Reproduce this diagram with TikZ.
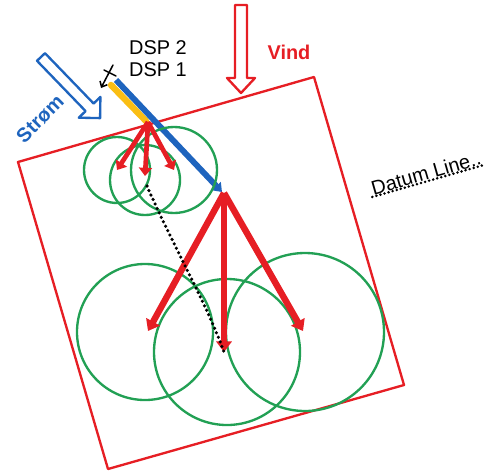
\documentclass[tikz,border=0pt]{standalone}
\usepackage{fontspec}
\setmainfont{Liberation Sans}
\usetikzlibrary{arrows.meta}
\definecolor{vindred}{RGB}{230,30,36}
\definecolor{ringgreen}{RGB}{34,160,84}
\definecolor{strømblue}{RGB}{30,100,190}
\definecolor{dspyellow}{RGB}{250,190,20}

\begin{document}
\begin{tikzpicture}[x=0.03cm, y=-0.03cm, line cap=round, line join=round,
	sirkel/.style={draw=ringgreen, line width=2pt},
	kraft/.style={draw=vindred, line width=5.5pt, line cap=butt, -{Triangle[length=9pt,width=13pt]}},
	smaakraft/.style={draw=vindred, line width=4pt, line cap=butt, -{Triangle[length=7pt,width=11pt]}},
	etikett/.style={font=\fontsize{17}{19}\selectfont, inner sep=1pt}]
	\useasboundingbox (0,0) rectangle (487,472);

	% Ramme
	\draw[vindred, line width=2pt] (18,162) -- (314,77) -- (404,385) -- (108,469) -- cycle;

	% Vind
	\draw[vindred, line width=2pt] (235,5) -- (247,5) -- (247,78) -- (255,78) -- (241,93) -- (227,78) -- (235,78) -- cycle;
	\node[etikett, text=vindred, font=\fontsize{17}{19}\selectfont\bfseries] (vind) at (289,52) {Vind};

	% Strøm
	\draw[strømblue, line width=2pt] (37.0,60.8) -- (45.0,53.2) -- (93.6,103.5) -- (100.4,96.9) -- (100.1,118.1) -- (78.8,117.7) -- (85.6,111.1) -- cycle;
	\node[etikett, text=strømblue, font=\fontsize{17}{19}\selectfont\bfseries, rotate=45] (strom) at (40,119) {Strøm};

	% DSP
	\node[etikett] (dsp2) at (158,48) {DSP 2};
	\node[etikett] (dsp1) at (158,70) {DSP 1};

	\coordinate (ankerA) at (113,65);
	\coordinate (ankerB) at (101,88);
	\draw[line width=1.3pt, -{Straight Barb[length=4pt,width=7pt]}] (ankerA) -- (ankerB);
	\draw[line width=1.3pt] (104,70) -- (116,76);

	\coordinate (gulA) at (111,85);
	\coordinate (gulB) at (146,121);
	\coordinate (blaaA) at (116,80);
	\coordinate (blaaB) at (222,192);
	\draw[dspyellow, line width=5.5pt] (gulA) -- (gulB);
	\draw[strømblue, line width=5pt, line cap=butt, -{Triangle[length=7pt,width=10pt]}] (blaaA) -- (blaaB);

	% Små sirkler
	\coordinate (topp) at (148,122);
	\coordinate (s1) at (117,170);
	\coordinate (s2) at (145,176);
	\coordinate (s3) at (174,170);
	\draw[sirkel] (s1) circle[radius=33];
	\draw[sirkel] (145,180) circle[radius=35];
	\draw[sirkel] (s3) circle[radius=43];
	\foreach \s in {s1, s2, s3}
		\draw[smaakraft] (topp) -- (\s);

	% Store sirkler
	\coordinate (apex) at (224,193);
	\coordinate (m1) at (148,331);
	\coordinate (m2) at (224,352);
	\coordinate (m3) at (303,331);
	\draw[sirkel] (145,332) circle[radius=68];
	\draw[sirkel] (227,352) circle[radius=73];
	\draw[sirkel] (305,332) circle[radius=79];
	\foreach \m in {m1, m2, m3}
		\draw[kraft] (apex) -- (\m);

	% Datum Line
	\coordinate (prikkA) at (147,186);
	\draw[line width=3pt, dash pattern=on 0pt off 4.2pt] (prikkA) .. controls (175,250) and (205,300) .. (m2);
	\node[etikett, rotate=16] (datum) at (426,173) {Datum Line..};
	\draw[line width=2.4pt, dash pattern=on 0pt off 3.6pt] ([yshift=-1pt]datum.base west) -- ([yshift=-1pt]datum.base east);
\end{tikzpicture}
\end{document}
